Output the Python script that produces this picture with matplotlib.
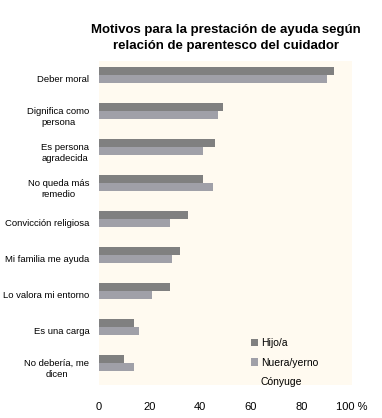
import matplotlib
matplotlib.use("Agg")
import matplotlib.pyplot as plt
import numpy as np

categories = ["Deber moral", "Dignifica como\npersona", "Es persona\nagradecida",
              "No queda más\nremedio", "Convicción religiosa", "Mi familia me ayuda",
              "Lo valora mi entorno", "Es una carga", "No debería, me\ndicen"]
hijo = [93, 49, 46, 41, 35, 32, 28, 14, 10]
nuera = [90, 47, 41, 45, 28, 29, 21, 16, 14]
conyuge = [0, 0, 0, 0, 0, 0, 0, 0, 0]
series_names = ["Hijo/a", "Nuera/yerno", "Cónyuge"]
xticks = [0, 20, 40, 60, 80, 100]
xticklabels = ["0", "20", "40", "60", "80", "100 %"]
title = "Motivos para la prestación de ayuda según\nrelación de parentesco del cuidador"

plt.rcParams['font.family'] = ['Liberation Sans', 'DejaVu Sans']

fig = plt.figure(figsize=(3.82, 4.18), dpi=100)
W, H = 382, 418
ax = fig.add_axes([99 / W, 1 - 385 / H, (352 - 99) / W, (385 - 61) / H])
ax.set_facecolor("#FFFAF0")

n = len(categories)
y = np.arange(n)
h = 8 / 36
cols = ["#808080", "#A0A0A8", "none"]
for i, (vals, name, c) in enumerate(zip([hijo, nuera, conyuge], series_names, cols)):
    ax.barh(y - h + i * h, vals, height=h, color=c, label=name, linewidth=0)

ax.set_ylim(n - 0.5, -0.5)
ax.set_xlim(0, 100)
ax.set_yticks(y)
ax.set_yticklabels(categories, fontsize=6.8, linespacing=1.35, ha="right")
for lab in ax.get_yticklabels():
    lab.set_multialignment("center")
ax.set_xticks(xticks)
ax.set_xticklabels(xticklabels, fontsize=8)
ax.tick_params(length=0, pad=7)
ax.tick_params(axis="x", pad=12)
for s in ax.spines.values():
    s.set_visible(False)

leg = ax.legend(loc="lower left", bbox_to_anchor=(0.565, -0.035), frameon=False,
                fontsize=7.5, handlelength=0.6, handleheight=0.7, handletextpad=0.3,
                labelspacing=0.9)

fig.text(226 / W, 1 - 38 / H, title, ha="center", va="center", fontsize=9.5,
         fontweight="bold", linespacing=1.55)

fig.savefig("out.png", dpi=100, facecolor="white")
